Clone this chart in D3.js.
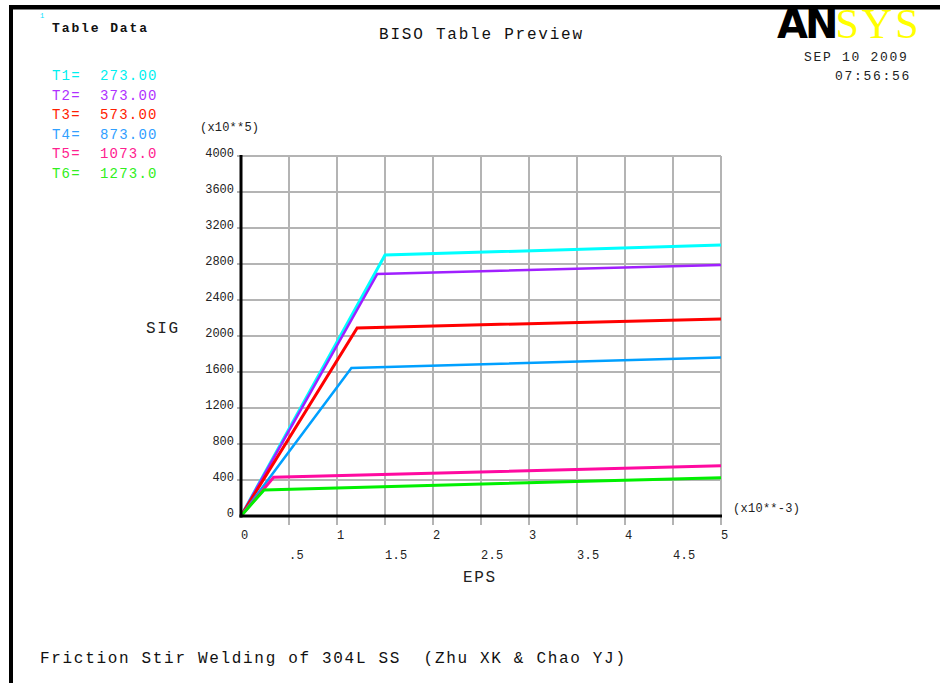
<!DOCTYPE html>
<html lang="en">
<head>
<meta charset="UTF-8"/>
<title>BISO Table Preview</title>
<script src="https://cdn.jsdelivr.net/npm/d3@7/dist/d3.min.js"></script>
<style>
body { margin: 0; background: #fff; }
text { font-family: "Liberation Mono", "DejaVu Sans Mono", monospace; fill: #222; white-space: pre; }
</style>
</head>
<body>
<svg id="viz"></svg>
<script>
var tempNames = ["T1", "T2", "T3", "T4", "T5", "T6"];
var tempLabels = ["273.00", "373.00", "573.00", "873.00", "1073.0", "1273.0"];
var seriesColors = ["#00ffff", "#a020ff", "#ff0000", "#00a0ff", "#ff0aa0", "#00f000"];
var legendColors = ["#00f0f0", "#b030ff", "#ff2000", "#30a0ff", "#ff2090", "#30f020"];
// each curve: (0,0) -> yield point -> end point   (EPS x10**-3, SIG x10**5)
var yieldEps = [1.50, 1.42, 1.21, 1.15, 0.34, 0.24];
var yieldSig = [2900, 2690, 2090, 1645, 431, 290];
var endEps = 5;
var endSig = [3010, 2790, 2190, 1760, 557, 426];
var yTicks = [0, 400, 800, 1200, 1600, 2000, 2400, 2800, 3200, 3600, 4000];
var xMajor = [0, 1, 2, 3, 4, 5];
var xHalf = [0.5, 1.5, 2.5, 3.5, 4.5];
var xHalfLabels = [".5", "1.5", "2.5", "3.5", "4.5"];

var width = 943, height = 683;
var svg = d3.select("#viz").attr("width", width).attr("height", height);

var x = d3.scaleLinear().domain([0, 5]).range([241, 721]);
var y = d3.scaleLinear().domain([0, 4000]).range([516, 156]);

// grid
var grid = svg.append("g").attr("stroke", "#b4b4b4").attr("stroke-width", 2);
grid.selectAll("line.h").data(yTicks.slice(1)).enter().append("line")
    .attr("x1", x(0) - 4).attr("x2", x(5))
    .attr("y1", function(d) { return y(d); }).attr("y2", function(d) { return y(d); });
grid.selectAll("line.v").data(xHalf.concat(xMajor.slice(1))).enter().append("line")
    .attr("y1", y(4000)).attr("y2", y(0) + 9)
    .attr("x1", function(d) { return x(d); }).attr("x2", function(d) { return x(d); });

// curves
var line = d3.line().x(function(d) { return x(d[0]); }).y(function(d) { return y(d[1]); });
var curves = tempNames.map(function(n, i) {
    return [[0, 0], [yieldEps[i], yieldSig[i]], [endEps, endSig[i]]];
});
svg.append("g").selectAll("path").data(curves).enter().append("path")
    .attr("d", line)
    .attr("fill", "none")
    .attr("stroke", function(d, i) { return seriesColors[i]; })
    .attr("stroke-width", function(d, i) { return (i == 1 || i == 3) ? 2.5 : 3; });

// axes
svg.append("line").attr("x1", x(0)).attr("x2", x(0)).attr("y1", y(4000) - 1).attr("y2", y(0) + 1.5)
    .attr("stroke", "#000").attr("stroke-width", 3);
svg.append("line").attr("x1", x(0) - 1.5).attr("x2", x(5) + 1).attr("y1", y(0)).attr("y2", y(0))
    .attr("stroke", "#000").attr("stroke-width", 3);

// tick labels
svg.append("g").selectAll("text").data(yTicks).enter().append("text")
    .attr("x", 234).attr("y", function(d) { return y(d) + 1; })
    .attr("text-anchor", "end")
    .style("font-size", "12px")
    .text(function(d) { return d; });
svg.append("g").selectAll("text").data(xMajor).enter().append("text")
    .attr("x", function(d) { return x(d); }).attr("y", 539)
    .style("font-size", "12px")
    .text(function(d) { return d; });
svg.append("g").selectAll("text").data(xHalf).enter().append("text")
    .attr("x", function(d) { return x(d); }).attr("y", 559)
    .style("font-size", "12px").style("letter-spacing", "0.3px")
    .text(function(d, i) { return xHalfLabels[i]; });

svg.append("text").attr("x", 200).attr("y", 131).style("font-size", "12px").attr("textLength", 59).attr("lengthAdjust", "spacing").text("(x10**5)");
svg.append("text").attr("x", 733).attr("y", 512).style("font-size", "12px").attr("textLength", 67).attr("lengthAdjust", "spacing").text("(x10**-3)");
svg.append("text").attr("x", 146).attr("y", 333).style("font-size", "16px").style("letter-spacing", "1.6px").text("SIG");
svg.append("text").attr("x", 463).attr("y", 582).style("font-size", "16px").style("letter-spacing", "1.6px").text("EPS");

// header
svg.append("text").attr("x", 379).attr("y", 39).style("font-size", "16px").style("fill", "#111")
    .attr("textLength", 203).attr("lengthAdjust", "spacing").text("BISO Table Preview");
svg.append("text").attr("x", 52).attr("y", 32).style("font-size", "13px").style("font-weight", "bold").style("fill", "#111")
    .attr("textLength", 95).attr("lengthAdjust", "spacing").text("Table Data");
svg.append("text").attr("x", 40).attr("y", 18).style("font-size", "7px").style("fill", "#00e0ff").text("1");

// legend
var leg = svg.append("g").selectAll("g").data(tempNames).enter().append("g")
    .attr("transform", function(d, i) { return "translate(52," + (80 + i * 19.6) + ")"; });
leg.append("text").style("font-size", "14px").style("letter-spacing", "1.2px")
    .style("fill", function(d, i) { return legendColors[i]; })
    .text(function(d) { return d + "="; });
leg.append("text").attr("x", 48).style("font-size", "14px").style("letter-spacing", "1.2px")
    .style("fill", function(d, i) { return legendColors[i]; })
    .text(function(d, i) { return tempLabels[i]; });

// date / time
svg.append("text").attr("x", 804).attr("y", 61).style("font-size", "13px").style("letter-spacing", "1.7px").text("SEP 10 2009");
svg.append("text").attr("x", 835).attr("y", 80).style("font-size", "13px").style("letter-spacing", "1.7px").text("07:56:56");

// footer
svg.append("text").attr("x", 40).attr("y", 663).style("font-size", "16px").style("fill", "#111")
    .attr("textLength", 585).attr("lengthAdjust", "spacing")
    .text("Friction Stir Welding of 304L SS  (Zhu XK & Chao YJ)");

// logo (single text so the two parts stay one label)
var logo = svg.append("text").attr("x", 777).attr("y", 38);
logo.append("tspan")
    .style("font-family", "'DejaVu Sans', sans-serif").style("font-weight", "bold").style("font-size", "40px")
    .style("fill", "#000").style("letter-spacing", "-3px").text("AN");
logo.append("tspan")
    .style("font-family", "'Liberation Serif', serif").style("font-size", "42px")
    .style("fill", "#ffff00").style("letter-spacing", "3px").text("SYS");

// frame
svg.append("rect").attr("x", 9).attr("y", 5).attr("width", 931).attr("height", 4.5).attr("fill", "#000");
svg.append("rect").attr("x", 9).attr("y", 5).attr("width", 4).attr("height", height - 5).attr("fill", "#000");
</script>
</body>
</html>
